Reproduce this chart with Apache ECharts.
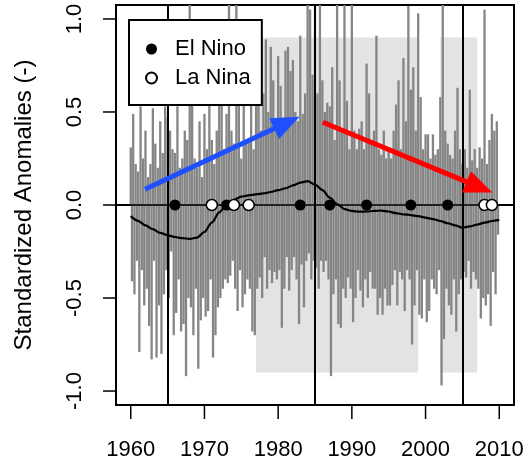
<!DOCTYPE html>
<html><head><meta charset="utf-8">
<script src="https://cdn.jsdelivr.net/npm/echarts@6/dist/echarts.min.js"></script>
<style>html,body{margin:0;padding:0;background:#fff}#c{width:529px;height:462px}</style>
</head><body><div id="c"></div>
<script>
const startYear = 1960;
const samplesPerYear = 6;
const anomalies = [
  0.31,-0.41,0.49,-0.48,0.22,-0.30,   // 1960
  0.18,-0.79,0.53,-0.35,0.25,-0.54,   // 1961
  0.40,-0.45,0.15,-0.65,0.22,-0.83,   // 1962
  0.52,-0.30,0.33,-0.82,0.20,-0.54,   // 1963
  0.45,-0.80,0.28,-0.48,0.53,-0.35,   // 1964
  0.47,-0.50,0.40,-0.25,0.30,-0.70,   // 1965
  0.28,-0.58,0.53,-0.40,0.20,-0.68,   // 1966
  0.25,-0.64,0.40,-0.92,0.35,-0.50,   // 1967
  1.10,-0.55,0.62,-0.70,0.25,-0.45,   // 1968
  0.20,-0.88,0.45,-0.62,0.15,-0.50,   // 1969
  0.49,-0.60,0.30,-0.57,0.62,-0.40,   // 1970
  0.35,-0.82,0.22,-0.70,0.40,-0.55,   // 1971
  0.62,-0.50,0.65,-0.45,0.30,-0.40,   // 1972
  0.49,-0.42,1.10,-0.38,0.40,-0.30,   // 1973
  0.33,-0.45,1.10,-0.57,0.60,-0.35,   // 1974
  0.25,-0.55,0.62,-0.48,0.35,-0.40,   // 1975
  0.35,-0.45,0.55,-0.68,0.30,-0.70,   // 1976
  0.54,-0.45,0.72,-0.39,0.40,-0.50,   // 1977
  0.60,-0.28,0.89,-0.45,0.50,-0.35,   // 1978
  0.85,-0.42,0.67,-0.36,0.45,-0.40,   // 1979
  0.80,-0.35,0.64,-0.66,0.40,-0.45,   // 1980
  0.83,-0.28,0.85,-0.46,0.72,-0.35,   // 1981
  0.78,-0.28,0.50,-0.40,0.45,-0.64,   // 1982
  0.91,-0.32,0.49,-0.55,0.60,-0.30,   // 1983
  1.10,-0.26,1.05,-0.40,0.70,-0.30,   // 1984
  1.10,-0.34,0.60,-0.45,1.10,-0.30,   // 1985
  0.67,-0.36,0.50,-0.30,0.55,-0.40,   // 1986
  0.53,-0.92,0.74,-0.48,0.35,-0.40,   // 1987
  1.10,-0.64,0.67,-0.66,0.40,-0.45,   // 1988
  1.10,-0.50,0.56,-0.39,0.30,-0.45,   // 1989
  1.10,-0.63,0.40,-0.50,0.30,-0.35,   // 1990
  0.41,-0.46,0.45,-0.55,0.30,-0.40,   // 1991
  0.76,-0.50,0.60,-0.36,0.35,-0.45,   // 1992
  0.40,-0.45,0.91,-0.59,0.30,-0.50,   // 1993
  0.27,-0.59,0.40,-0.45,0.25,-0.54,   // 1994
  0.31,-0.54,0.25,-0.43,0.40,-0.35,   // 1995
  0.54,-0.54,0.67,-0.36,0.30,-0.40,   // 1996
  0.79,-0.57,0.45,-0.35,1.07,-0.40,   // 1997
  0.62,-0.75,0.74,-0.54,0.40,-0.35,   // 1998
  1.03,-0.59,0.58,-0.61,0.30,-0.40,   // 1999
  0.38,-0.63,0.38,-0.57,0.25,-0.40,   // 2000
  0.38,-0.45,0.27,-0.48,0.30,-0.35,   // 2001
  0.58,-0.97,1.10,-0.72,0.40,-0.45,   // 2002
  0.33,-0.54,0.27,-0.59,0.25,-0.40,   // 2003
  0.40,-0.68,0.63,-0.48,0.30,-0.40,   // 2004
  0.22,-0.36,0.30,-0.39,0.20,-0.30,   // 2005
  0.62,-0.45,0.24,-0.36,0.30,-0.40,   // 2006
  0.20,-0.45,0.31,-0.61,0.25,-0.50,   // 2007
  1.05,-0.54,0.22,-0.48,0.35,-0.65,   // 2008
  0.49,-0.36,0.40,-0.48,0.45,-0.16    // 2009
];
const smoothYears = [1960,1961,1962,1963,1964,1965,1966,1967,1968,1969,1970,1971,1972,1973,1974,1975,1976,1977,1978,1979,1980,1981,1982,1983,1984,1985,1986,1987,1988,1989,1990,1991,1992,1993,1994,1995,1996,1997,1998,1999,2000,2001,2002,2003,2004,2005,2006,2007,2008,2009,2010];
const smoothValues = [-0.06,-0.085,-0.11,-0.13,-0.15,-0.163,-0.172,-0.178,-0.182,-0.175,-0.145,-0.095,-0.04,0.0,0.028,0.045,0.052,0.057,0.062,0.07,0.08,0.09,0.105,0.12,0.128,0.11,0.08,0.04,0.005,-0.022,-0.032,-0.036,-0.035,-0.032,-0.03,-0.035,-0.044,-0.05,-0.054,-0.06,-0.068,-0.076,-0.086,-0.098,-0.11,-0.122,-0.115,-0.105,-0.095,-0.086,-0.08];
const elNinoYears = [1966,1973,1983,1987,1992,1998,2003];
const laNinaYears = [1971,1974,1976,2008,2009];
const regimeBreaks = [1965,1985,2005];
const shadedSpans = [[1977,1999],[2002,2007]];
const shadedRange = [-0.9,0.9];
const xTicks = [1960,1970,1980,1990,2000,2010];
const yTicks = [-1,-0.5,0,0.5,1];
const trendArrows = [[1961.94,0.085,1982.9,0.474],[1986.06,0.445,2009.07,0.067]];
const arrowColors = ['#1f4fff','#ff0000'];

const FONT = 'Liberation Sans';
const X_MIN = 1958, X_MAX = 2012, Y_MIN = -1.075, Y_MAX = 1.075;
const spikeData = anomalies.map((v,i)=>[startYear + i/samplesPerYear, v]);
// tick marks drawn through the axis scales: [axisIndicator, value]
const tickData = xTicks.map(t=>[t, Y_MIN, 0]).concat(yTicks.map(v=>[X_MIN, v, 1]));
const chart = echarts.init(document.getElementById('c'), null, {renderer:'canvas'});
chart.setOption({
  animation:false,
  backgroundColor:'#fff',
  textStyle:{fontFamily:FONT},
  grid:{left:116,right:15,top:5,bottom:57,show:true,borderColor:'#000',borderWidth:2,backgroundColor:'transparent',containLabel:false,outerBoundsMode:'none'},
  xAxis:{type:'value',min:X_MIN,max:X_MAX,
    axisLine:{show:true,lineStyle:{color:'#000',width:2}},splitLine:{show:false},
    axisTick:{show:false},
    axisLabel:{customValues:xTicks,fontSize:22,color:'#000',margin:34,fontFamily:FONT,
      formatter:v=>String(v)}},
  yAxis:{type:'value',min:Y_MIN,max:Y_MAX,
    axisLine:{show:true,lineStyle:{color:'#000',width:2}},splitLine:{show:false},
    axisTick:{show:false},
    axisLabel:{customValues:yTicks,fontSize:22,color:'#000',rotate:90,margin:30,fontFamily:FONT,
      formatter:v=>v.toFixed(1)},
    name:'Standardized Anomalies (-)',nameLocation:'middle',nameGap:80,
    nameTextStyle:{fontSize:24,color:'#000',fontFamily:FONT}},
  legend:{show:true,orient:'vertical',left:129,top:20,
    data:['El Nino','La Nina'],icon:'circle',itemWidth:11,itemHeight:11,itemGap:7,
    padding:[18,11,16,16],backgroundColor:'#fff',borderColor:'#000',borderWidth:2,borderRadius:0,
    textStyle:{fontSize:22,color:'#000',fontFamily:FONT,lineHeight:22,padding:[0,0,0,13]},z:20},
  series:[
    {name:'shade',type:'line',data:[],z:1,silent:true,
      markArea:{silent:true,itemStyle:{color:'#e3e3e3'},
        data:shadedSpans.map(s=>[{xAxis:s[0],yAxis:shadedRange[0]},{xAxis:s[1],yAxis:shadedRange[1]}])}},
    {name:'anom',type:'custom',z:2,clip:true,silent:true,data:spikeData,encode:{x:0,y:1},
      renderItem:(params,api)=>{
        const t=api.value(0),v=api.value(1);
        const a=api.coord([t,0]),b=api.coord([t,v]);
        return {type:'line',shape:{x1:a[0],y1:a[1],x2:b[0],y2:b[1]},style:{stroke:'#858585',lineWidth:2.3}};
      }},
    {name:'refs',type:'line',data:[],z:3,silent:true,
      markLine:{silent:true,symbol:['none','none'],label:{show:false},
        lineStyle:{color:'#000',width:2,type:'solid'},
        data:[...regimeBreaks.map(x=>({xAxis:x})),{yAxis:0,lineStyle:{width:1.6}}]}},
    {name:'smooth',type:'line',z:4,smooth:0.3,smoothMonotone:'x',symbol:'none',silent:true,
      data:smoothYears.map((y,i)=>[y,smoothValues[i]]),lineStyle:{color:'#000',width:2.2}},
    {name:'El Nino',type:'scatter',z:5,symbol:'circle',symbolSize:11,
      data:elNinoYears.map(y=>[y,0]),itemStyle:{color:'#000',opacity:1}},
    {name:'La Nina',type:'scatter',z:5,symbol:'circle',symbolSize:11,
      data:laNinaYears.map(y=>[y,0]),itemStyle:{color:'#fff',borderColor:'#000',borderWidth:1.5,opacity:1}},
    {name:'arrows',type:'custom',z:6,silent:true,clip:false,data:trendArrows,encode:{x:[0,2],y:[1,3]},
      renderItem:(params,api)=>{
        const p1=api.coord([api.value(0),api.value(1)]),p2=api.coord([api.value(2),api.value(3)]);
        const dx=p2[0]-p1[0],dy=p2[1]-p1[1],len=Math.hypot(dx,dy),ux=dx/len,uy=dy/len;
        const L=28,W=11.5,bx=p2[0]-ux*L,by=p2[1]-uy*L,nx=-uy,ny=ux;
        const c=arrowColors[params.dataIndex];
        return {type:'group',children:[
          {type:'line',shape:{x1:p1[0],y1:p1[1],x2:bx+ux*2,y2:by+uy*2},style:{stroke:c,lineWidth:5}},
          {type:'polygon',shape:{points:[[p2[0],p2[1]],[bx+nx*W,by+ny*W],[bx-nx*W,by-ny*W]]},style:{fill:c}}
        ]};
      }},
    {name:'ticks',type:'custom',z:7,silent:true,clip:false,data:tickData,encode:{x:0,y:1},
      renderItem:(params,api)=>{
        const p=api.coord([api.value(0),api.value(1)]);
        const isY=api.value(2)===1;
        const shape=isY?{x1:p[0]-1,y1:p[1],x2:p[0]-13,y2:p[1]}:{x1:p[0],y1:p[1]+1,x2:p[0],y2:p[1]+14};
        return {type:'line',shape:shape,style:{stroke:'#000',lineWidth:1.5}};
      }}
  ]
});
</script></body></html>
